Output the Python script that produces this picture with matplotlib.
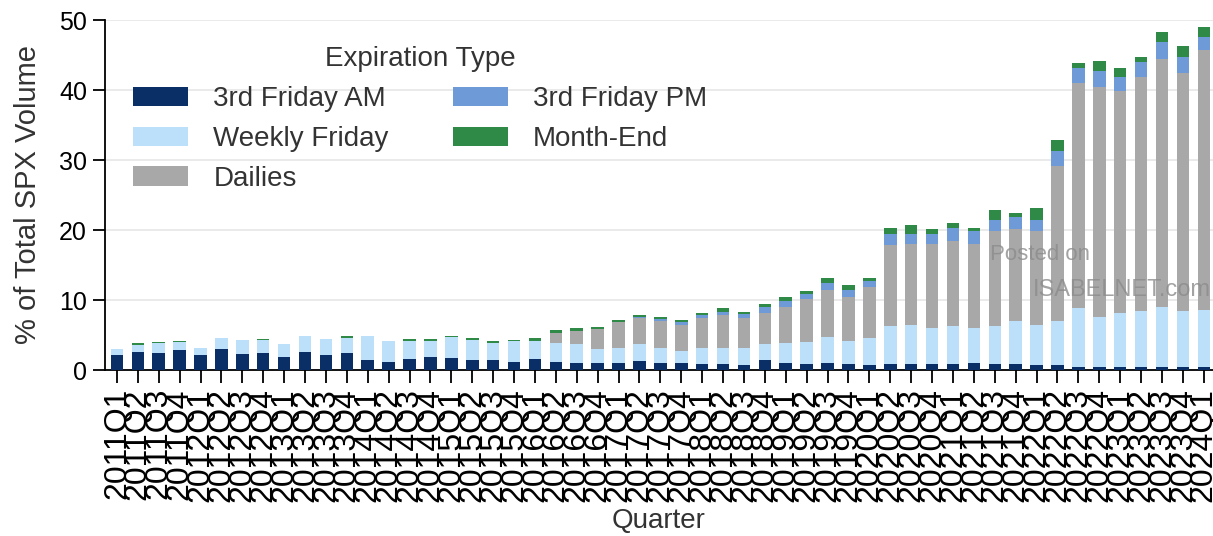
import numpy as np
import matplotlib
matplotlib.use("Agg")
import matplotlib.pyplot as plt

plt.rcParams['font.family'] = ['Liberation Sans', 'DejaVu Sans']

# quarters 2011Q1 .. 2024Q1
quarters = [f"{y}Q{q}" for y in range(2011, 2025) for q in range(1, 5)][:53]

# % of total SPX volume by expiration type
am_3rd_friday = [2.2, 2.6, 2.5, 2.9, 2.1, 3.0, 2.3, 2.4, 1.8, 2.6,
                 2.2, 2.4, 1.4, 1.2, 1.6, 1.8, 1.7, 1.4, 1.5, 1.2,
                 1.6, 1.1, 1.0, 1.0, 1.0, 1.3, 1.0, 1.0, 0.9, 0.8,
                 0.7, 1.4, 1.0, 0.9, 1.0, 0.8, 0.7, 0.8, 0.9, 0.8,
                 0.8, 1.0, 0.8, 0.8, 0.7, 0.7, 0.5, 0.5, 0.5, 0.5,
                 0.5, 0.5, 0.5]
weekly_friday = [0.8, 1.0, 1.4, 1.1, 1.0, 1.6, 2.0, 1.9, 1.9, 2.2,
                 2.2, 2.2, 3.4, 3.0, 2.6, 2.4, 3.0, 2.9, 2.3, 3.0,
                 2.5, 2.8, 2.7, 2.0, 2.1, 2.4, 2.1, 1.7, 2.3, 2.4,
                 2.5, 2.3, 2.9, 3.1, 3.7, 3.3, 3.9, 5.5, 5.5, 5.2,
                 5.5, 5.0, 5.5, 6.2, 5.8, 6.3, 8.3, 7.1, 7.7, 7.9,
                 8.5, 7.9, 8.1]
dailies = [0, 0, 0, 0, 0, 0, 0, 0, 0, 0,
           0, 0, 0, 0, 0, 0, 0, 0, 0, 0,
           0, 1.4, 1.9, 2.8, 3.7, 3.8, 3.9, 3.7, 4.3, 4.6,
           4.3, 4.5, 5.1, 6.1, 6.7, 6.4, 7.3, 11.6, 11.6, 12.0,
           12.2, 12.0, 13.6, 13.2, 13.4, 22.1, 32.2, 32.8, 31.6, 33.4,
           35.4, 34.1, 37.1]
pm_3rd_friday = [0, 0, 0, 0, 0, 0, 0, 0, 0, 0,
                 0, 0, 0, 0, 0, 0, 0, 0, 0, 0,
                 0, 0, 0, 0, 0.1, 0.1, 0.3, 0.4, 0.3, 0.5,
                 0.5, 0.8, 0.8, 0.7, 1.1, 1.0, 0.8, 1.6, 1.5, 1.4,
                 1.8, 1.9, 1.6, 1.6, 1.6, 2.2, 2.2, 2.3, 2.1, 2.2,
                 2.4, 2.2, 1.9]
month_end = [0, 0.3, 0.05, 0.1, 0, 0, 0, 0.2, 0, 0,
             0.1, 0.2, 0.1, 0, 0.2, 0.2, 0.1, 0.3, 0.4, 0.1,
             0.5, 0.4, 0.4, 0.4, 0.3, 0.3, 0.3, 0.4, 0.3, 0.6,
             0.3, 0.5, 0.6, 0.5, 0.7, 0.7, 0.5, 0.8, 1.2, 0.8,
             0.7, 0.4, 1.3, 0.7, 1.7, 1.6, 0.6, 1.4, 1.3, 0.7,
             1.5, 1.6, 1.4]

series = [
    ("3rd Friday AM", am_3rd_friday, "#0a2f66"),
    ("Weekly Friday", weekly_friday, "#bde0fa"),
    ("Dailies", dailies, "#a8a8a8"),
    ("3rd Friday PM", pm_3rd_friday, "#6f9ad8"),
    ("Month-End", month_end, "#2f8a48"),
]

fig = plt.figure(figsize=(12.13, 5.36), dpi=100)
ax = fig.add_axes([105 / 1213, 1 - 370 / 536, 1108 / 1213, 350 / 536])

x = np.arange(len(quarters))
bottom = np.zeros(len(quarters))
for name, vals, col in series:
    vals = np.array(vals, dtype=float)
    ax.bar(x, vals, width=0.6, bottom=bottom, color=col, label=name, zorder=3)
    bottom += vals

ax.set_xlim(-0.57, 52.44)
ax.set_ylim(0, 50)
ax.set_yticks([0, 10, 20, 30, 40, 50])
ax.grid(axis='y', color='#e6e6e6', linewidth=1.2, zorder=0)
ax.set_xticks(x)
ax.set_xticklabels(quarters, rotation=90, fontsize=23)
ax.tick_params(axis='y', labelsize=18, length=9, width=1.3, pad=4)
ax.tick_params(axis='x', length=9, width=1.3, pad=4)
for s in ['top', 'right']:
    ax.spines[s].set_visible(False)
for s in ['left', 'bottom']:
    ax.spines[s].set_linewidth(1.3)

ax.set_ylabel("% of Total SPX Volume", fontsize=21, color='#333333', labelpad=12)
ax.set_xlabel("Quarter", fontsize=20, color='#333333', labelpad=4)

leg = ax.legend(loc='upper left', bbox_to_anchor=(0.025, 0.925), ncol=2,
                frameon=False, fontsize=20, title="Expiration Type",
                title_fontsize=20, handlelength=2.0, handleheight=0.7,
                handletextpad=0.9, columnspacing=2.3, labelspacing=0.5,
                borderpad=0, borderaxespad=0)
for t in leg.get_texts():
    t.set_color('#333333')
leg.get_title().set_color('#333333')

# watermark
fig.text(990 / 1213, 1 - 255 / 536, "Posted on", fontsize=16, color='#8c8c8c',
         va='center', ha='left', alpha=0.8)
fig.text(1033 / 1213, 1 - 290 / 536, "ISABELNET.com", fontsize=17, color='#8c8c8c',
         va='center', ha='left', alpha=0.8)

fig.savefig("out.png", dpi=100)
